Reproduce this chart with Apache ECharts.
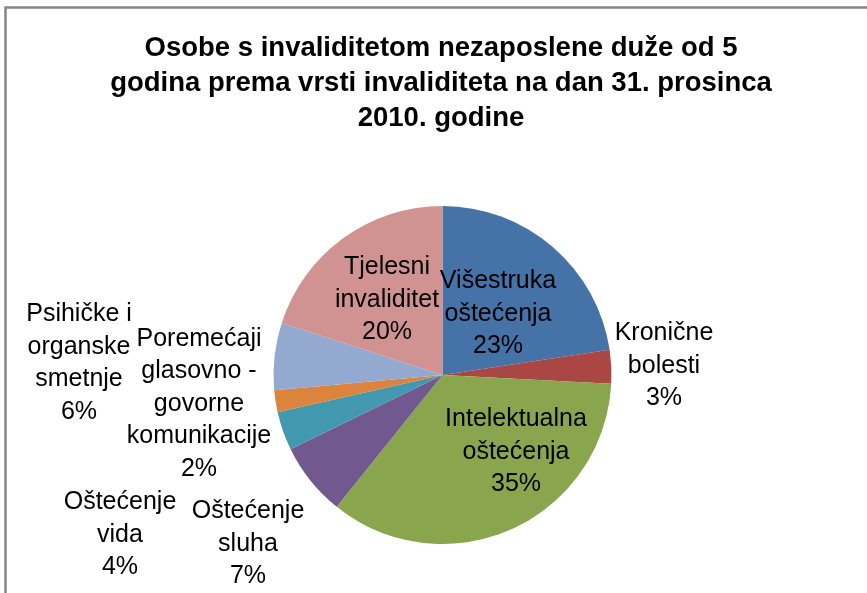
<!DOCTYPE html>
<html>
<head>
<meta charset="utf-8">
<script src="https://cdn.jsdelivr.net/npm/echarts@6/dist/echarts.min.js"></script>
<style>
html,body{margin:0;padding:0;background:#fff;}
#chart{width:867px;height:593px;}
</style>
</head>
<body>
<div id="chart"></div>
<script>
const titleText = 'Osobe s invaliditetom nezaposlene duže od 5\ngodina prema vrsti invaliditeta na dan 31. prosinca\n2010. godine';
const categories = [
  'Višestruka\noštećenja',
  'Kronične\nbolesti',
  'Intelektualna\noštećenja',
  'Oštećenje\nsluha',
  'Oštećenje\nvida',
  'Poremećaji\nglasovno -\ngovorne\nkomunikacije',
  'Psihičke i\norganske\nsmetnje',
  'Tjelesni\ninvaliditet'
];
const values = [22.6, 3.2, 34.9, 7.0, 3.7, 2.1, 6.4, 20.0];
const colors = ['#4572A7', '#AA4643', '#89A54E', '#71588F', '#4198AF', '#DB843D', '#93A9CF', '#D19392'];

// label anchor points (centre of each label block)
const labelPos = [
  [498, 314], [664, 366], [516, 452], [248, 544],
  [120, 535], [199, 404], [79, 363], [387, 300]
];

const chart = echarts.init(document.getElementById('chart'));
chart.setOption({
  animation: false,
  backgroundColor: '#ffffff',
  title: {
    text: titleText,
    left: 441,
    textAlign: 'center',
    top: 31,
    padding: 0,
    textStyle: {
      fontFamily: 'Liberation Sans',
      fontWeight: 'bold',
      fontSize: 27.5,
      lineHeight: 35,
      color: '#000000'
    }
  },
  graphic: [{
    type: 'rect',
    shape: { x: 5.5, y: 7.5, width: 1000, height: 1000 },
    style: { fill: 'none', stroke: '#868686', lineWidth: 2.5 },
    silent: true
  }],
  series: [{
    type: 'pie',
    center: [442.5, 375],
    radius: 169,
    startAngle: 90,
    clockwise: true,
    data: categories.map((c, i) => ({
      name: c,
      value: values[i],
      itemStyle: { color: colors[i] }
    })),
    itemStyle: { borderWidth: 0 },
    label: {
      show: true,
      position: 'inside',
      fontFamily: 'Liberation Sans',
      fontSize: 25,
      lineHeight: 32.5,
      color: '#000000',
      align: 'center',
      formatter: p => p.name + '\n' + Math.round(p.percent) + '%'
    },
    labelLine: { show: false },
    labelLayout: p => ({
      x: labelPos[p.dataIndex][0],
      y: labelPos[p.dataIndex][1],
      align: 'center',
      verticalAlign: 'middle'
    }),
    emphasis: { disabled: true }
  }]
});
</script>
</body>
</html>
